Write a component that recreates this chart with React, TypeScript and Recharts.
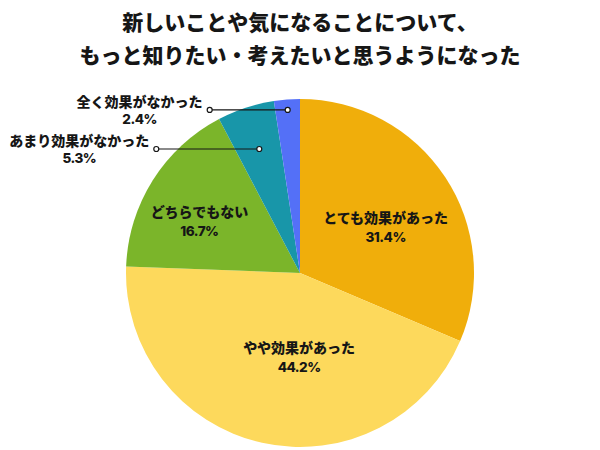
import { Cell, Pie, PieChart } from 'recharts';

const categories = ['とても効果があった', 'やや効果があった', 'どちらでもない', 'あまり効果がなかった', '全く効果がなかった'];
const shares = [31.4, 44.2, 16.7, 5.3, 2.4];
const colors = ['#F0AE0B', '#FDD95C', '#7BB52A', '#1896A9', '#5470F7'];
const titleLines = ['新しいことや気になることについて、', 'もっと知りたい・考えたいと思うようになった'];

const data = categories.map((name, i) => ({ name, value: shares[i] }));

// label placement tweaks (radius share, angle shift in degrees) for labels inside the pie
const insideLabel: Record<string, { r: number; shift: number }> = {
  'とても効果があった': { r: 0.56, shift: -5 },
  'やや効果があった': { r: 0.48, shift: 12 },
  'どちらでもない': { r: 0.65, shift: 5 },
};
// leader lines for the thin slices: dot radius (share of outer radius) and line length
const leaders: Record<string, { r: number; len: number }> = {
  'あまり効果がなかった': { r: 0.75, len: 103 },
  '全く効果がなかった': { r: 0.94, len: 78 },
};

const RAD = Math.PI / 180;
const FONT = 'Inter, "Noto Sans CJK JP", sans-serif';
const INK = '#161616';

function renderLabel(props: any) {
  const { cx, cy, midAngle, outerRadius, name, value } = props;
  const pct = `${value.toFixed(1)}%`;
  const lead = leaders[name];
  if (!lead) {
    const cfg = insideLabel[name] ?? { r: 0.58, shift: 0 };
    const a = (midAngle + cfg.shift) * RAD;
    const r = outerRadius * cfg.r;
    const x = cx + r * Math.cos(-a);
    const y = cy + r * Math.sin(-a);
    return (
      <g>
        <text x={x} y={y - 4} textAnchor="middle" fontFamily={FONT} fontWeight={800} fontSize={14} fill={INK}>
          {name}
        </text>
        <text x={x} y={y + 15} textAnchor="middle" fontFamily={FONT} fontWeight={800} fontSize={13.5} fill={INK} letterSpacing={-0.5}>
          {pct}
        </text>
      </g>
    );
  }
  const r = outerRadius * lead.r;
  const x1 = cx + r * Math.cos(-midAngle * RAD);
  const y1 = cy + r * Math.sin(-midAngle * RAD);
  const x2 = x1 - lead.len;
  const tx = x2 - 8 - (name.length * 13.8) / 2;
  return (
    <g>
      <line x1={x1} y1={y1} x2={x2} y2={y1} stroke={INK} strokeWidth={1.2} />
      <circle cx={x1} cy={y1} r={2.5} fill="#fff" stroke={INK} strokeWidth={1.2} />
      <circle cx={x2} cy={y1} r={2.5} fill="#fff" stroke={INK} strokeWidth={1.2} />
      <text x={tx} y={y1 - 3} textAnchor="middle" fontFamily={FONT} fontWeight={800} fontSize={14} fill={INK}>
        {name}
      </text>
      <text x={tx} y={y1 + 14} textAnchor="middle" fontFamily={FONT} fontWeight={800} fontSize={13.5} fill={INK} letterSpacing={-0.5}>
        {pct}
      </text>
    </g>
  );
}

export default function App() {
  return (
    <div style={{ position: 'absolute', left: 0, top: 0, width: 600, height: 450, background: '#fff' }}>
      <div
        style={{
          position: 'absolute',
          left: 0,
          top: 6,
          width: 600,
          textAlign: 'center',
          fontFamily: FONT,
          fontWeight: 800,
          fontSize: 21,
          lineHeight: '33px',
          color: INK,
        }}
      >
        {titleLines.map((t) => (
          <div key={t}>{t}</div>
        ))}
      </div>
      <PieChart width={600} height={450} margin={{ top: 0, right: 0, bottom: 0, left: 0 }}>
        <Pie
          data={data}
          dataKey="value"
          nameKey="name"
          cx={300}
          cy={273}
          outerRadius={174}
          startAngle={90}
          endAngle={-270}
          stroke="none"
          label={renderLabel}
          labelLine={false}
          isAnimationActive={false}
        >
          {data.map((d, i) => (
            <Cell key={d.name} fill={colors[i]} />
          ))}
        </Pie>
      </PieChart>
    </div>
  );
}
